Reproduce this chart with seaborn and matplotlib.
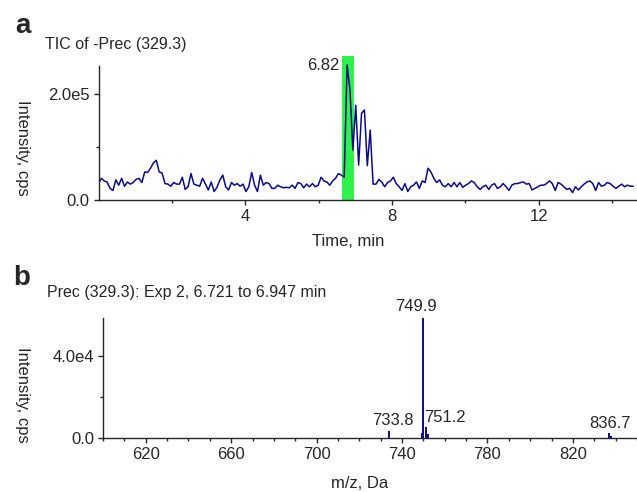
import numpy as np
import pandas as pd
import matplotlib.pyplot as plt
import seaborn as sns

# TIC trace (intensity in thousands of cps), one value per scan
tic_before = [31, 41, 36, 34, 22, 18, 38, 28, 41, 26, 34, 30, 33, 39, 41, 33, 53, 52, 60, 70,
              75, 53, 51, 31, 30, 26, 33, 30, 30, 43, 20, 25, 50, 30, 28, 26, 41, 30, 19, 34,
              16, 24, 38,
              47, 25, 19, 33, 28, 31, 26, 30, 16, 25, 52, 28, 16, 47, 28, 33, 31, 22, 22, 28,
              25, 23, 24, 23, 28, 22, 33, 31, 23, 30, 25, 31, 25, 28, 43, 36, 34, 28, 36, 41,
              50, 47, 43]
tic_peak = [255, 208, 94, 179, 66, 164, 170, 65, 132, 30, 30, 39]
tic_after = [34, 25, 33, 36, 43, 31, 25, 18, 31, 16, 25, 28, 34, 22, 36, 33, 60, 53, 41, 33,
             38, 28, 25, 31, 25, 33, 25, 33, 24, 28, 31, 36, 33, 25, 20, 25, 28, 20, 28, 31,
             22, 25, 31,
             25, 18, 28, 31, 31, 33, 34, 30, 31, 19, 22, 25, 28, 28, 31, 36, 31, 18, 33, 30,
             25, 20, 22, 14, 25, 19, 25, 30, 34, 36, 31, 18, 33, 26, 28, 33, 31, 26, 22, 26,
             30, 25, 28, 26, 26]
cycle_time = 0.0788  # min per scan

# spectrum (m/z, intensity)
mz = [733.8, 749.4, 749.9, 751.2, 752.0, 836.7, 837.6]
intensity = [3.4e3, 2.6e3, 5.9e4, 5.5e3, 1.8e3, 2.6e3, 1.0e3]
peak_labels = ["733.8", "749.9", "751.2", "836.7"]

tic = np.array(tic_before + tic_peak + tic_after) * 1e3
tic_df = pd.DataFrame({"time": np.arange(len(tic)) * cycle_time, "tic": tic})

sns.set_style("ticks")
plt.rcParams['font.family'] = ['Liberation Sans', 'DejaVu Sans']
plt.rcParams['axes.linewidth'] = 1.0

navy = '#0b0b85'
fig = plt.figure(figsize=(6.37, 4.92), dpi=100)

# ---- panel a ----
ax1 = fig.add_axes([98.5 / 637, 1 - 200 / 492, 1 - 98.5 / 637, 144 / 492])
ax1.axvspan(6.64, 6.96, color='#2ef24b', lw=0, zorder=0)
sns.lineplot(data=tic_df, x="time", y="tic", color=navy, lw=1.1, ax=ax1)
ax1.set_xlim(0, 14.68)
ax1.set_ylim(0, 2.72e5)
ax1.spines['left'].set_bounds(0, 2.53e5)
ax1.set_xticks([4, 8, 12])
ax1.set_xticks([2, 6, 10, 14], minor=True)
ax1.set_yticks([0, 2e5])
ax1.set_yticklabels(["0.0", "2.0e5"])
ax1.set_yticks([1e5], minor=True)
ax1.set_xlabel("Time, min", fontsize=12)
ax1.xaxis.set_label_coords((348 - 98.5) / 538.5, (200 - 241) / 144)
ax1.xaxis.label.set_va('center')
ax1.set_ylabel("Intensity, cps", fontsize=12, rotation=270, va='center')
ax1.yaxis.set_label_coords((22 - 98.5) / 538.5, (200 - 148) / 144)
ax1.text(6.58, 2.55e5, "6.82", ha='right', va='center', fontsize=12)

# ---- panel b ----
ax2 = fig.add_axes([103 / 637, 1 - 438 / 492, 1 - 103 / 637, 120 / 492])
ax2.vlines(mz, 0, intensity, color=navy, lw=1.4)
ax2.set_xlim(600, 850)
ax2.set_ylim(0, 5.85e4)
ax2.set_xticks([620, 660, 700, 740, 780, 820])
ax2.set_xticks(np.arange(600, 851, 10), minor=True)
ax2.set_yticks([0, 4e4])
ax2.set_yticklabels(["0.0", "4.0e4"])
ax2.set_yticks([2e4], minor=True)
ax2.set_xlabel("m/z, Da", fontsize=12)
ax2.xaxis.set_label_coords((360 - 103) / 534, (438 - 483) / 120)
ax2.xaxis.label.set_va('center')
ax2.set_ylabel("Intensity, cps", fontsize=12, rotation=270, va='center')
ax2.yaxis.set_label_coords((22 - 103) / 534, (438 - 395) / 120)
ax2.annotate(peak_labels[0], (mz[0], intensity[0]), xytext=(3, 2), textcoords='offset points',
             ha='center', va='bottom', fontsize=12, annotation_clip=False)
ax2.annotate(peak_labels[1], (mz[2], intensity[2]), xytext=(-5, 2), textcoords='offset points',
             ha='center', va='bottom', fontsize=12, annotation_clip=False)
ax2.annotate(peak_labels[2], (mz[3], intensity[3]), xytext=(-1, 1), textcoords='offset points',
             ha='left', va='bottom', fontsize=12, annotation_clip=False)
ax2.annotate(peak_labels[3], (mz[5], intensity[5]), xytext=(1, 1), textcoords='offset points',
             ha='center', va='bottom', fontsize=12, annotation_clip=False)

for ax in (ax1, ax2):
    sns.despine(ax=ax)
    ax.tick_params(which='major', length=3.5, width=1, labelsize=12, pad=3)
    ax.tick_params(which='minor', length=2, width=1)

fig.text(15 / 637, 1 - 33 / 492, "a", fontsize=20, fontweight='bold', va='baseline')
fig.text(13 / 637, 1 - 285 / 492, "b", fontsize=20, fontweight='bold', va='baseline')
fig.text(45 / 637, 1 - 44 / 492, "TIC of -Prec (329.3)", fontsize=11.5, va='center')
fig.text(47 / 637, 1 - 292 / 492, "Prec (329.3): Exp 2, 6.721 to 6.947 min", fontsize=11.5, va='center')

fig.savefig("out.png", dpi=100)
